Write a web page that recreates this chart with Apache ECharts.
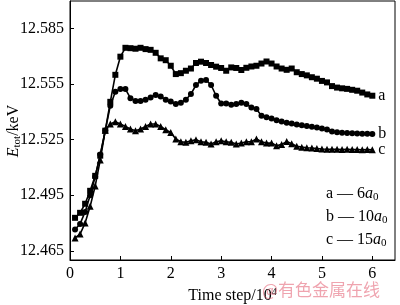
<!DOCTYPE html>
<html><head><meta charset="utf-8">
<script src="https://cdn.jsdelivr.net/npm/echarts@6/dist/echarts.min.js"></script>
<style>html,body{margin:0;padding:0;background:#fff}#c{width:400px;height:305px}</style>
</head><body><div id="c"></div>
<script>
const steps = [0.1,0.2,0.3,0.4,0.5,0.6,0.7,0.8,0.9,1.0,1.1,1.2,1.3,1.4,1.5,1.6,1.7,1.8,1.9,2.0,2.1,2.2,2.3,2.4,2.5,2.6,2.7,2.8,2.9,3.0,3.1,3.2,3.3,3.4,3.5,3.6,3.7,3.8,3.9,4.0,4.1,4.2,4.3,4.4,4.5,4.6,4.7,4.8,4.9,5.0,5.1,5.2,5.3,5.4,5.5,5.6,5.7,5.8,5.9,6.0];
const seriesA = [12.4828,12.4855,12.4904,12.4974,12.5055,12.5164,12.5299,12.5455,12.5601,12.5699,12.5747,12.5745,12.5742,12.5747,12.5740,12.5736,12.5720,12.5690,12.5680,12.5650,12.5605,12.5610,12.5623,12.5635,12.5665,12.5672,12.5665,12.5654,12.5645,12.5638,12.5623,12.5641,12.5638,12.5627,12.5639,12.5646,12.5650,12.5662,12.5673,12.5662,12.5646,12.5635,12.5628,12.5635,12.5615,12.5605,12.5598,12.5588,12.5580,12.5568,12.5560,12.5540,12.5532,12.5528,12.5525,12.5520,12.5515,12.5505,12.5495,12.5488];
const seriesB = [12.4765,12.4795,12.4860,12.4950,12.5050,12.5170,12.5300,12.5434,12.5510,12.5524,12.5524,12.5475,12.5460,12.5460,12.5466,12.5479,12.5492,12.5484,12.5466,12.5457,12.5443,12.5450,12.5466,12.5497,12.5546,12.5569,12.5573,12.5546,12.5488,12.5446,12.5446,12.5439,12.5443,12.5450,12.5443,12.5425,12.5416,12.5380,12.5371,12.5365,12.5355,12.5348,12.5342,12.5338,12.5333,12.5328,12.5324,12.5320,12.5316,12.5311,12.5305,12.5295,12.5290,12.5288,12.5287,12.5285,12.5284,12.5283,12.5282,12.5281];
const seriesC = [12.4719,12.4740,12.4800,12.4890,12.5000,12.5140,12.5302,12.5335,12.5347,12.5335,12.5322,12.5308,12.5299,12.5308,12.5322,12.5335,12.5335,12.5322,12.5304,12.5289,12.5254,12.5239,12.5236,12.5245,12.5250,12.5239,12.5236,12.5227,12.5239,12.5245,12.5239,12.5236,12.5227,12.5232,12.5239,12.5239,12.5254,12.5239,12.5232,12.5232,12.5218,12.5225,12.5240,12.5228,12.5215,12.5210,12.5207,12.5205,12.5203,12.5200,12.5199,12.5198,12.5198,12.5197,12.5198,12.5197,12.5197,12.5196,12.5197,12.5196];
const yTicks = [12.465,12.495,12.525,12.555,12.585];
const seriesNames = ['a','b','c'];
const legendLines = [['a — 6','0'],['b — 10','0'],['c — 15','0']];
const watermark = '@有色金属在线';

const F = 'Liberation Serif';
const chart = echarts.init(document.getElementById('c'));
const mk = (vals, name, sym, size) => ({
  type:'line', name, data: steps.map((s,i)=>[s, vals[i]]),
  symbol: sym, symbolSize: size, showAllSymbol: true,
  lineStyle:{color:'#000', width:1.6}, itemStyle:{color:'#000'},
  endLabel:{show:true, formatter:name, color:'#000', fontFamily:F, fontSize:16, distance:6},
  animation:false
});
chart.setOption({
  animation:false,
  grid:{left:70, top:1, right:5, bottom:45, show:true, borderColor:'#000', borderWidth:1, containLabel:false, outerBoundsMode:'none'},
  xAxis:{type:'value', min:0, max:6.45, interval:1,
    axisLine:{lineStyle:{color:'#000', width:1}},
    axisTick:{inside:true, length:4, lineStyle:{color:'#000'}},
    axisLabel:{color:'#000', fontFamily:F, fontSize:16, margin:6, showMaxLabel:false,
      formatter:v=> (v<=6? String(v):'')},
    splitLine:{show:false},
    name:'{n|Time step/10}{s|4}', nameLocation:'middle', nameGap:25,
    nameTextStyle:{rich:{n:{fontFamily:F, fontSize:16, color:'#000'}, s:{fontFamily:F, fontSize:10, color:'#000', verticalAlign:'top', padding:[0,0,8,0]}}}
  },
  yAxis:{type:'value', min:12.46, max:12.6,
    axisLine:{lineStyle:{color:'#000', width:1}},
    axisTick:{inside:true, length:4, customValues:yTicks, lineStyle:{color:'#000'}},
    axisLabel:{color:'#000', fontFamily:F, fontSize:16, margin:6, customValues:yTicks, formatter:v=>v.toFixed(3)},
    splitLine:{show:false}
  },
  series:[mk(seriesA,seriesNames[0],'rect',6), mk(seriesB,seriesNames[1],'circle',6), mk(seriesC,seriesNames[2],'triangle',7)],
  graphic: legendLines.map((l,k)=>({
    type:'text', left:326, top:186+k*23, silent:true,
    style:{text:'{n|'+l[0]+'}{i|a}{s|'+l[1]+'}', rich:{n:{fontFamily:F,fontSize:16,fill:'#000'}, i:{fontFamily:F,fontStyle:'italic',fontSize:16,fill:'#000'}, s:{fontFamily:F,fontSize:11,fill:'#000', padding:[6,0,0,0]}}}
  })).concat([{
    type:'text', x:14, y:131, rotation:Math.PI/2, silent:true,
    style:{text:'{i|E}{s|tot}{n|/keV}', align:'center', verticalAlign:'middle',
      rich:{i:{fontFamily:F, fontStyle:'italic', fontSize:16, fill:'#000'}, s:{fontFamily:F, fontSize:11, fill:'#000', padding:[6,0,0,0]}, n:{fontFamily:F, fontSize:16, fill:'#000'}}}
  },{
    type:'text', left:262, top:281, silent:true, z:100,
    style:{text:watermark, fontFamily:'Noto Sans CJK SC', fontSize:17, fill:'rgba(225,90,110,0.55)'}
  }])
});
</script></body></html>
